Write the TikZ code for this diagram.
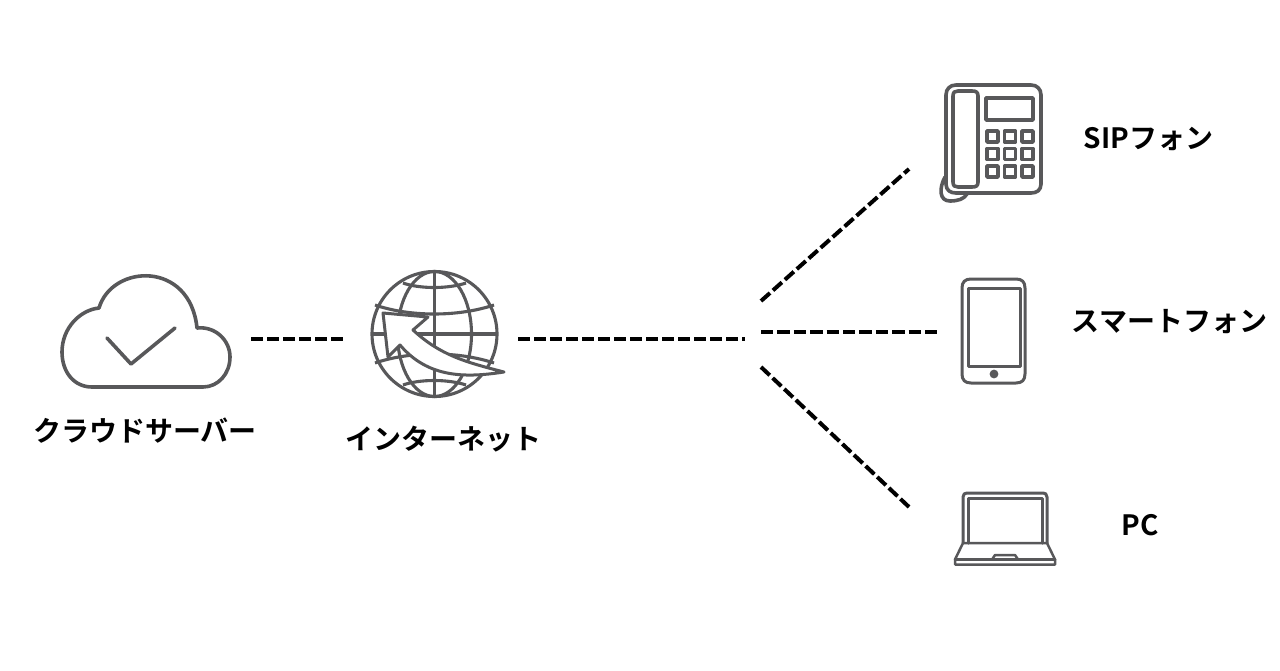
\documentclass[tikz,border=0pt]{standalone}
\usepackage{fontspec}
\setmainfont{Noto Sans CJK JP}[BoldFont={Noto Sans CJK JP Bold}]
\definecolor{icon}{HTML}{58585A}
\tikzset{
  lbl/.style={font=\bfseries\fontsize{28}{32}\selectfont, text=black, inner sep=0pt},
  ln/.style={draw=icon, line width=3.6pt, line join=round, line cap=round},
  med/.style={draw=icon, line width=3pt, line join=round, line cap=round},
  fine/.style={draw=icon, line width=2.5pt, line join=round, line cap=round},
  thin/.style={draw=icon, line width=3.1pt, line join=round},
  dashline/.style={draw=black, line width=4pt, dash pattern=on 12pt off 4pt},
  dashlong/.style={draw=black, line width=4pt, dash pattern=on 12.4pt off 4pt},
  arrowshape/.style={draw=icon, fill=white, line width=3pt, line join=round}
}
\begin{document}
\begin{tikzpicture}[x=1pt,y=-1pt]
\useasboundingbox (0,0) rectangle (1280,670);
% cloud
\draw[ln] (99,308) .. controls (112,264) and (190,260) .. (197,328)
  .. controls (215,326) and (230,340) .. (230,357)
  .. controls (230,374) and (218,387) .. (203,387) -- (92,387)
  .. controls (74,387) and (62,372) .. (62,352)
  .. controls (62,328) and (80,310) .. (99,308) -- cycle;
\draw[ln] (107,338) -- (131,364) -- (175,328);
% globe
\draw[thin] (434.5,334) circle (62.5);
\draw[thin] (434.5,271) -- (434.5,397) (372,334) -- (497,334);
\draw[thin] (434.5,334) ellipse (37 and 62.5);
\draw[thin] (375,305) .. controls (410,317) and (458,317) .. (494,305);
\draw[thin] (375,363) .. controls (410,351) and (458,351) .. (494,363);
\draw[thin] (403,283) .. controls (420,289) and (448,289) .. (466,283);
\draw[thin] (403,385) .. controls (420,379) and (448,379) .. (466,385);
\draw[arrowshape] (383,313) -- (428,317) -- (413,330)
  .. controls (440,355) and (465,362) .. (504,372)
  .. controls (465,378) and (428,378) .. (400,345)
  -- (388,357) -- cycle;
% phone
\draw[ln] (956,85) -- (1031,85) .. controls (1037,85) and (1041,89) .. (1041,95)
  -- (1041,184) .. controls (1041,190) and (1037,193) .. (1031,193) -- (956,193)
  .. controls (950,193) and (946,190) .. (946,184) -- (946,95)
  .. controls (946,89) and (950,85) .. (956,85) -- cycle;
\draw[ln, fill=white] (953,96) .. controls (953,92) and (955,91) .. (958,91) -- (972,91)
  .. controls (976,91) and (978,92) .. (978,96) -- (978,182)
  .. controls (978,186) and (976,187) .. (972,187) -- (958,187)
  .. controls (955,187) and (953,186) .. (953,182) -- cycle;
\draw[ln] (945,177) .. controls (939,188) and (939,201) .. (950,201)
  .. controls (958,201) and (964,199) .. (967,194);
\draw[ln] (986,98) rectangle (1033,120);
\foreach \yy in {131,148.5,166} \foreach \xx in {987,1004.5,1022}
  \draw[ln] (\xx,\yy) rectangle ++(11,11);
% smartphone
\draw[med] (971,279) -- (1016,279) .. controls (1022,279) and (1025,282) .. (1025,288)
  -- (1025,374) .. controls (1025,380) and (1022,383) .. (1016,383) -- (971,383)
  .. controls (965,383) and (962,380) .. (962,374) -- (962,288)
  .. controls (962,282) and (965,279) .. (971,279) -- cycle;
\draw[med] (968,288) rectangle (1020,366);
\fill[icon] (994,374) circle (4.4);
% laptop
\draw[med] (963,543) -- (963,497) .. controls (963,494) and (965,493) .. (967,493) -- (1043,493)
  .. controls (1045,493) and (1047,494) .. (1047,497) -- (1047,543);
\draw[med] (968,543) -- (968,498) -- (1042,498) -- (1042,543);
\draw[fine] (963,543) -- (1047,543) -- (1055,559.5) -- (1055,564.5) -- (955,564.5) -- (955,559.5) -- cycle;
\draw[fine] (955,559.5) -- (1055,559.5);
\draw[fine] (992,559.5) -- (995,555) -- (1015,555) -- (1018,559.5);
% anchors
\coordinate (hubL) at (745,339);
\coordinate (hubA) at (761,301);
\coordinate (hubB) at (761,332);
\coordinate (hubC) at (761,367);
\coordinate (cloudE) at (251,339);
\coordinate (netW) at (343,339);
\coordinate (netE) at (518,339);
\coordinate (sipS) at (909,169);
\coordinate (smaW) at (937.4,332);
\coordinate (pcW) at (909,507);
\draw[dashline] (cloudE) -- (netW);
\draw[dashline] (netE) -- (hubL);
\draw[dashline] (hubA) -- (sipS);
\draw[dashlong] (hubB) -- (smaW);
\draw[dashline] (hubC) -- (pcW);
% labels
\node[lbl] (lcloud) at (145,431) {クラウドサーバー};
\node[lbl] (lnet) at (443.5,439) {インターネット};
\node[lbl] (lsip) at (1148.5,138.5) {SIPフォン};
\node[lbl] (lsma) at (1169.5,321.5) {スマートフォン};
\node[lbl] (lpc) at (1140,525) {PC};
\end{tikzpicture}
\end{document}
